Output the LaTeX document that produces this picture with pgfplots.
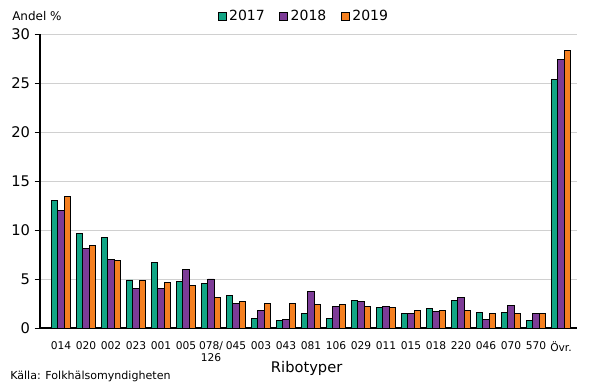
\documentclass[border=0pt]{standalone}
\usepackage{pgfplots}
\pgfplotsset{compat=1.18}
\usepackage{fontspec}
\setmainfont{DejaVu Sans}
\definecolor{cgreen}{HTML}{12A585}
\definecolor{cpurple}{HTML}{7D3C97}
\definecolor{corange}{HTML}{F58020}
\definecolor{cgrid}{HTML}{D0D0D0}
\begin{document}
\begin{tikzpicture}
\path[use as bounding box] (0,0) rectangle (442.5pt,291pt);
\begin{axis}[
  at={(30pt,45pt)}, anchor=south west,
  scale only axis, width=402.75pt, height=220.5pt,
  ybar=0pt, bar width=0.25,
  xmin=-0.84, xmax=20.64, ymin=0, ymax=30,
  ytick={0,5,...,30},
  xtick={0,...,20},
  xticklabels={014,020,002,023,001,005,{078/\\126},045,003,043,081,106,029,011,015,018,220,046,070,570,Övr.},
  xticklabel style={font=\fontsize{8}{9}\selectfont, align=center, anchor=north, yshift=-3pt},
  yticklabel style={font=\fontsize{11}{12}\selectfont},
  /pgf/number format/assume math mode=true,
  axis lines*=left,
  axis line style={line width=0.8pt, -, black},
  x tick style={draw=none},
  y tick style={black, line width=0.6pt},
  major tick length=4pt,
  ytick align=outside,
  ymajorgrids, grid style={cgrid, line width=0.7pt},
  legend style={at={(0.492,1.061)}, anchor=center, draw=none, fill=none,
    legend columns=-1, font=\fontsize{10.5}{12}\selectfont,
    /tikz/every even column/.append style={column sep=9pt}},
  legend image code/.code={\draw[#1, line width=0.5pt] (0pt,-3pt) rectangle (6pt,3pt);},
]
\addplot[draw=black, line width=0.7pt, fill=cgreen] coordinates {(0,13.0) (1,9.6) (2,9.2) (3,4.9) (4,6.7) (5,4.7) (6,4.5) (7,3.3) (8,1.0) (9,0.8) (10,1.5) (11,1.0) (12,2.8) (13,2.1) (14,1.5) (15,2.0) (16,2.8) (17,1.6) (18,1.6) (19,0.8) (20,25.4)};
\addplot[draw=black, line width=0.7pt, fill=cpurple] coordinates {(0,12.0) (1,8.1) (2,7.0) (3,4.0) (4,4.0) (5,6.0) (6,5.0) (7,2.5) (8,1.8) (9,0.9) (10,3.7) (11,2.2) (12,2.7) (13,2.2) (14,1.5) (15,1.7) (16,3.1) (17,0.9) (18,2.3) (19,1.5) (20,27.4)};
\addplot[draw=black, line width=0.7pt, fill=corange] coordinates {(0,13.4) (1,8.4) (2,6.9) (3,4.8) (4,4.6) (5,4.3) (6,3.1) (7,2.7) (8,2.5) (9,2.5) (10,2.4) (11,2.4) (12,2.2) (13,2.1) (14,1.8) (15,1.8) (16,1.8) (17,1.5) (18,1.5) (19,1.5) (20,28.3)};
\legend{2017,2018,2019}
\end{axis}
\node[anchor=west, font=\fontsize{9}{10}\selectfont, inner sep=0pt] at (9pt,279pt) {Andel \%};
\node[anchor=center, font=\fontsize{11}{12}\selectfont, inner sep=0pt] at (230pt,15pt) {Ribotyper};
\node[anchor=west, font=\fontsize{8.3}{9}\selectfont, inner sep=0pt] at (7.5pt,9pt) {Källa: Folkhälsomyndigheten};
\end{tikzpicture}
\end{document}
